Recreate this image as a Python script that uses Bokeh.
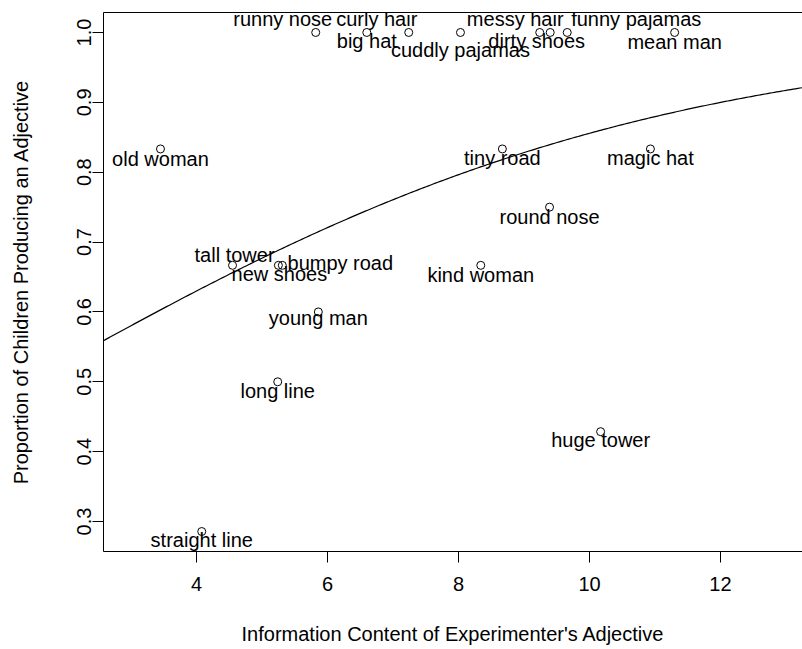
import numpy as np
from bokeh.plotting import figure
from bokeh.models import ColumnDataSource, FixedTicker, PrintfTickFormatter, LinearAxis, Range1d
from bokeh.core.properties import value
from bokeh.embed import file_html
from bokeh.resources import INLINE

# ---- data ----
adjectives = ["runny nose", "big hat", "curly hair", "cuddly pajamas", "dirty shoes",
              "messy hair", "funny pajamas", "mean man", "old woman", "tiny road",
              "magic hat", "round nose", "tall tower", "new shoes", "bumpy road",
              "kind woman", "young man", "long line", "huge tower", "straight line"]
info_content = [5.82, 6.60, 7.24, 8.03, 9.24,
                9.40, 9.66, 11.30, 3.45, 8.67,
                10.93, 9.39, 4.55, 5.25, 5.31,
                8.34, 5.86, 5.24, 10.17, 4.08]
proportion = [1.0, 1.0, 1.0, 1.0, 1.0,
              1.0, 1.0, 1.0, 0.8333, 0.8333,
              0.8333, 0.75, 0.6667, 0.6667, 0.6667,
              0.6667, 0.6, 0.5, 0.4286, 0.2857]
x_ticks = [4, 6, 8, 10, 12]
y_ticks = [0.3, 0.4, 0.5, 0.6, 0.7, 0.8, 0.9, 1.0]

# logistic fit (coefficients)
fit_intercept = -0.30
fit_slope = 0.208

# label placement (screen pixels relative to the point; styling only)
label_dx = [-33, 0, -32, 0, -3, -35, 69, 0, 0, 0, 0, 0, 2, 1, 58, 0, 0, 0, 0, 0]
label_dy = [-13.5, 9, -13.5, 17.5, 9, -13.5, -13.5, 10, 10, 9, 9, 10, -10, 9, -2, 10, 6, 9, 8, 8.5]

FONT = "Liberation Sans"
x_lo, x_hi = 2.58, 13.252
y_lo, y_hi = 0.2571, 1.0286

p = figure(width=802, height=649, output_backend="svg", toolbar_location=None,
           x_range=Range1d(x_lo, x_hi), y_range=Range1d(y_lo, y_hi),
           min_border_left=103, min_border_right=0, min_border_top=12, min_border_bottom=98)
p.outline_line_color = None
p.grid.visible = False
p.background_fill_color = "white"
p.border_fill_color = "white"

# fitted curve
xs = np.linspace(x_lo, x_hi, 300)
ys = 1.0 / (1.0 + np.exp(-(fit_intercept + fit_slope * xs)))
p.line(xs, ys, line_color="black", line_width=1.2)

src = ColumnDataSource(dict(x=info_content, y=proportion, text=adjectives,
                            dx=label_dx, dy=label_dy))
p.scatter(x="x", y="y", source=src, marker="circle", size=8, fill_color=None,
          line_color="black", line_width=1)
p.text(x="x", y="y", text="text", x_offset="dx", y_offset="dy", source=src,
       text_align="center", text_baseline="alphabetic",
       text_font=value(FONT), text_font_size="20px", text_color="black")

# axes
for ax in (p.xaxis[0], p.yaxis[0]):
    ax.axis_line_color = "black"
    ax.axis_line_width = 1
    ax.major_tick_line_color = "black"
    ax.major_tick_out = 11
    ax.major_tick_in = 0
    ax.minor_tick_out = 0
    ax.minor_tick_in = 0
    ax.major_label_text_font = FONT
    ax.major_label_text_font_size = "20px"
    ax.major_label_text_color = "black"
    ax.axis_label_text_font = FONT
    ax.axis_label_text_font_size = "20px"
    ax.axis_label_text_font_style = "normal"
    ax.axis_label_text_color = "black"

p.xaxis.ticker = FixedTicker(ticks=x_ticks)
p.xaxis.formatter = PrintfTickFormatter(format="%d")
p.xaxis.major_label_standoff = 14
p.xaxis.axis_label = "Information Content of Experimenter's Adjective"
p.xaxis.axis_label_standoff = 29

p.yaxis.ticker = FixedTicker(ticks=y_ticks)
p.yaxis.formatter = PrintfTickFormatter(format="%.1f")
p.yaxis.major_label_orientation = "vertical"
p.yaxis.major_label_standoff = 1
p.yaxis.axis_label = "Proportion of Children Producing an Adjective"
p.yaxis.axis_label_standoff = 43

top = LinearAxis(ticker=FixedTicker(ticks=[]), major_label_text_font_size="0px",
                 major_tick_out=0, major_tick_in=0, minor_tick_out=0, minor_tick_in=0,
                 major_label_standoff=0, axis_line_color="black")
p.add_layout(top, "above")

open("out.html", "w").write(file_html(p, INLINE))
